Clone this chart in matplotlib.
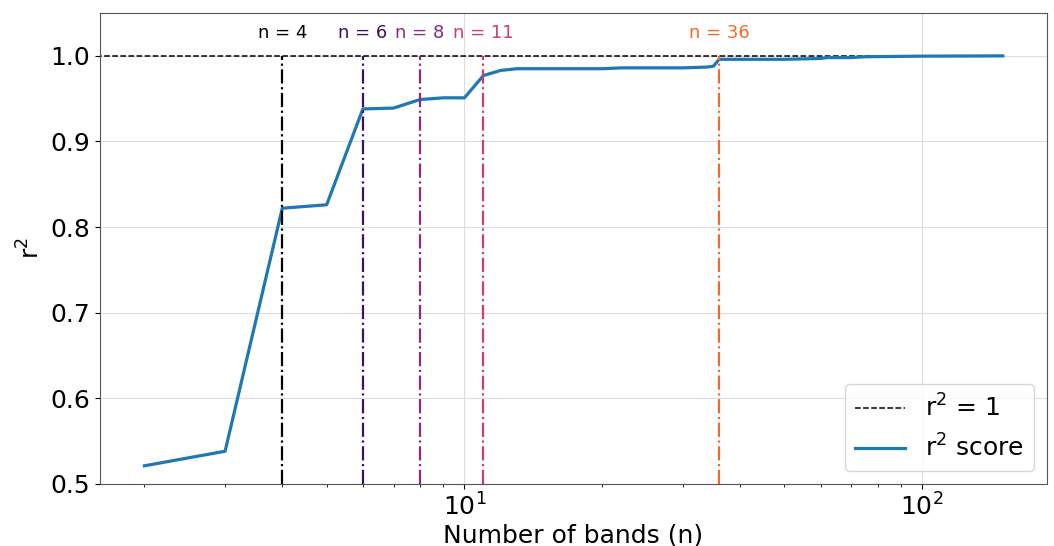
import numpy as np
import matplotlib
matplotlib.use("Agg")
import matplotlib.pyplot as plt

# r^2 of the reconstruction vs number of bands
n_bands = [2, 3, 4, 5, 6, 7, 8, 9, 10, 11, 12, 13, 16, 20, 22, 25, 30, 34, 35, 36,
           40, 50, 60, 62, 70, 75, 100, 150]
r2_score = [0.521, 0.538, 0.822, 0.826, 0.938, 0.939, 0.949, 0.951, 0.951, 0.977,
            0.983, 0.985, 0.985, 0.985, 0.986, 0.986, 0.986, 0.987, 0.988, 0.996,
            0.996, 0.996, 0.997, 0.998, 0.998, 0.999, 0.9997, 1.0]

# selected band counts marked on the plot
marked_n = [4, 6, 8, 11, 36]
marked_colors = ["#000000", "#3a1068", "#8a2a80", "#cc3f66", "#f26a2a"]

fig, ax = plt.subplots(figsize=(10.54, 5.46), dpi=100)
fig.subplots_adjust(left=0.095, right=0.993, top=0.976, bottom=0.114)

# reference line r^2 = 1, spanning the sampled range
ax.plot([1, n_bands[-1]], [1.0, 1.0], color="black", linestyle="--",
        linewidth=1.1, label=r"r$^2$ = 1")
ax.plot(n_bands, r2_score, color="#1f77b4", linewidth=2.3, label=r"r$^2$ score")

for n, c in zip(marked_n, marked_colors):
    ax.vlines(n, 0.5, 1.0, colors=c, linestyles="-.", linewidth=1.6)
    ax.text(n, 1.027, f"n = {n}", color=c, fontsize=13, ha="center", va="center")

ax.set_xscale("log")
ax.set_xlim(1.6, 187)
ax.set_ylim(0.5, 1.05)
ax.set_yticks([0.5, 0.6, 0.7, 0.8, 0.9, 1.0])
ax.grid(True, color="#dddddd", linewidth=0.8)
ax.set_axisbelow(True)

ax.set_xlabel("Number of bands (n)", fontsize=18, labelpad=2)
ax.set_ylabel(r"r$^2$", fontsize=18)
ax.tick_params(axis="both", labelsize=18)
for sp in ax.spines.values():
    sp.set_color("#555555")

ax.legend(loc="lower right", fontsize=18, framealpha=0.8)

fig.savefig("out.png", dpi=100)
